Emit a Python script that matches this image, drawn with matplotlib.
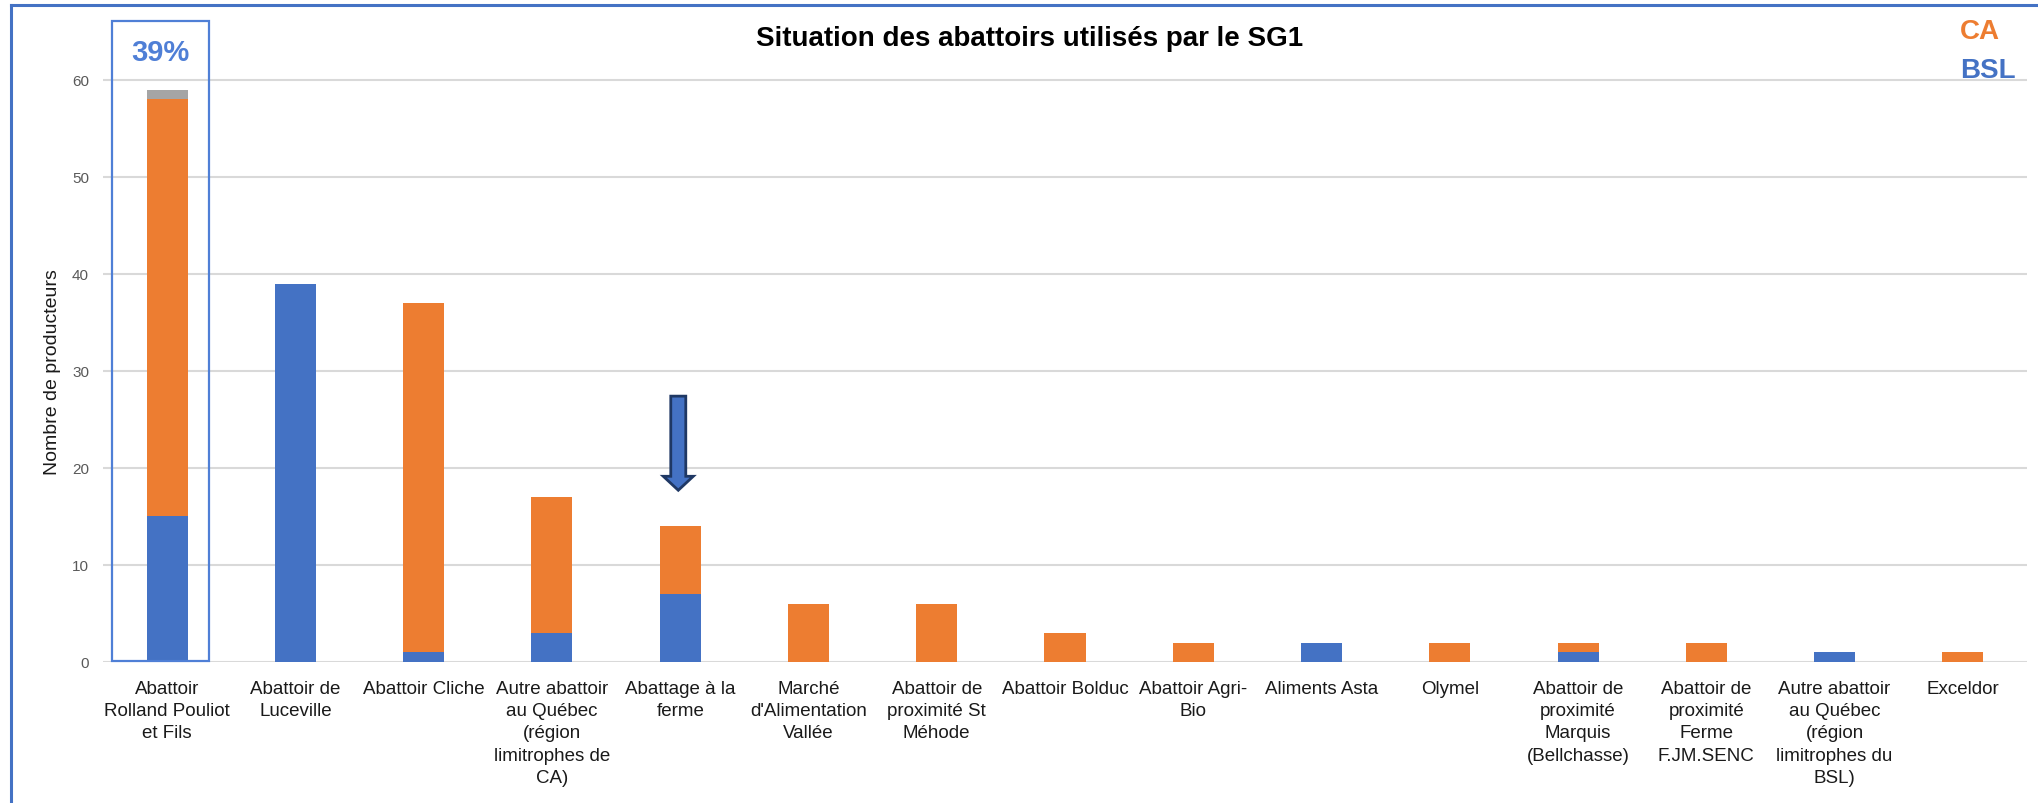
"""Stacked bar chart: slaughterhouses used by SG1 producers (CA / BSL)."""

import matplotlib

matplotlib.use("Agg")
import matplotlib.pyplot as plt
from matplotlib.lines import Line2D
from matplotlib.patches import FancyArrow, Rectangle

plt.rcParams["font.family"] = ["Liberation Sans", "DejaVu Sans"]

CATEGORIES = [
    "Abattoir\nRolland Pouliot\net Fils",
    "Abattoir de\nLuceville",
    "Abattoir Cliche",
    "Autre abattoir\nau Québec\n(région\nlimitrophes de\nCA)",
    "Abattage à la\nferme",
    "Marché\nd'Alimentation\nVallée",
    "Abattoir de\nproximité St\nMéhode",
    "Abattoir Bolduc",
    "Abattoir Agri-\nBio",
    "Aliments Asta",
    "Olymel",
    "Abattoir de\nproximité\nMarquis\n(Bellchasse)",
    "Abattoir de\nproximité\nFerme\nF.JM.SENC",
    "Autre abattoir\nau Québec\n(région\nlimitrophes du\nBSL)",
    "Exceldor",
]
BSL = [15, 39, 1, 3, 7, 0, 0, 0, 0, 2, 0, 1, 0, 1, 0]
CA = [43, 0, 36, 14, 7, 6, 6, 3, 2, 0, 2, 1, 2, 0, 1]
OTHER = [1, 0, 0, 0, 0, 0, 0, 0, 0, 0, 0, 0, 0, 0, 0]
Y_TICKS = [0, 10, 20, 30, 40, 50, 60]

BLUE = "#4472C4"
ORANGE = "#ED7D31"
GREY = "#A5A5A5"

W, H = 2038, 804
fig = plt.figure(figsize=(W / 100, H / 100), dpi=100, facecolor="white")
ax = fig.add_axes([103 / W, 1 - 663 / H, (2027 - 103) / W, (663 - 10) / H])

x = list(range(len(CATEGORIES)))
width = 0.32
ax.bar(x, BSL, width, color=BLUE, zorder=3)
ax.bar(x, CA, width, bottom=BSL, color=ORANGE, zorder=3)
ca_top = [b + c for b, c in zip(BSL, CA)]
ax.bar(x, OTHER, width, bottom=ca_top, color=GREY, zorder=3)

ax.set_xlim(-0.5, len(CATEGORIES) - 0.5)
ax.set_ylim(0, 67.3)
ax.set_yticks(Y_TICKS)
ax.set_xticks(x)
ax.set_xticklabels(CATEGORIES, fontsize=13.5, color="#1a1a1a", linespacing=1.4)
ax.tick_params(axis="x", length=0, pad=13)
ax.tick_params(axis="y", length=0, pad=10, labelsize=11, labelcolor="#595959")
ax.grid(axis="y", color="#d9d9d9", linewidth=1.5, zorder=0)
for spine in ax.spines.values():
    spine.set_visible(False)

# highlight box around the first bar
ax.add_patch(Rectangle((-0.43, 0.1), 0.756, 66.0, fill=False,
                       edgecolor="#4F7FD6", linewidth=1.6, zorder=4, clip_on=False))
ax.text(-0.056, 62.9, "39%", color="#4F7FD6", fontsize=21, fontweight="bold",
        ha="center", va="center")

# arrow pointing at "Abattage à la ferme"
ax.add_patch(FancyArrow(3.985, 27.4, 0, -9.7, width=0.117, head_width=0.234,
                        head_length=1.44, length_includes_head=True,
                        facecolor=BLUE, edgecolor="#1F3864", linewidth=2, zorder=5))

fig.text(1030 / W, 1 - 39 / H, "Situation des abattoirs utilisés par le SG1",
         fontsize=20, fontweight="bold", ha="center", va="center", color="black")
fig.text(53 / W, 1 - 372 / H, "Nombre de producteurs", rotation=90,
         fontsize=14, ha="center", va="center", color="#1a1a1a")
fig.text(1960 / W, 1 - 32 / H, "CA", color=ORANGE, fontsize=20, fontweight="bold",
         ha="left", va="center")
fig.text(1960 / W, 1 - 71 / H, "BSL", color=BLUE, fontsize=20, fontweight="bold",
         ha="left", va="center")

# outer frame (top and left edges)
fig.add_artist(Line2D([11 / W, 11 / W], [0, 1 - 6 / H], color=BLUE, linewidth=2.2))
fig.add_artist(Line2D([11 / W, 1], [1 - 6 / H, 1 - 6 / H], color=BLUE, linewidth=2.2))

fig.savefig("out.png", dpi=100, facecolor="white")
